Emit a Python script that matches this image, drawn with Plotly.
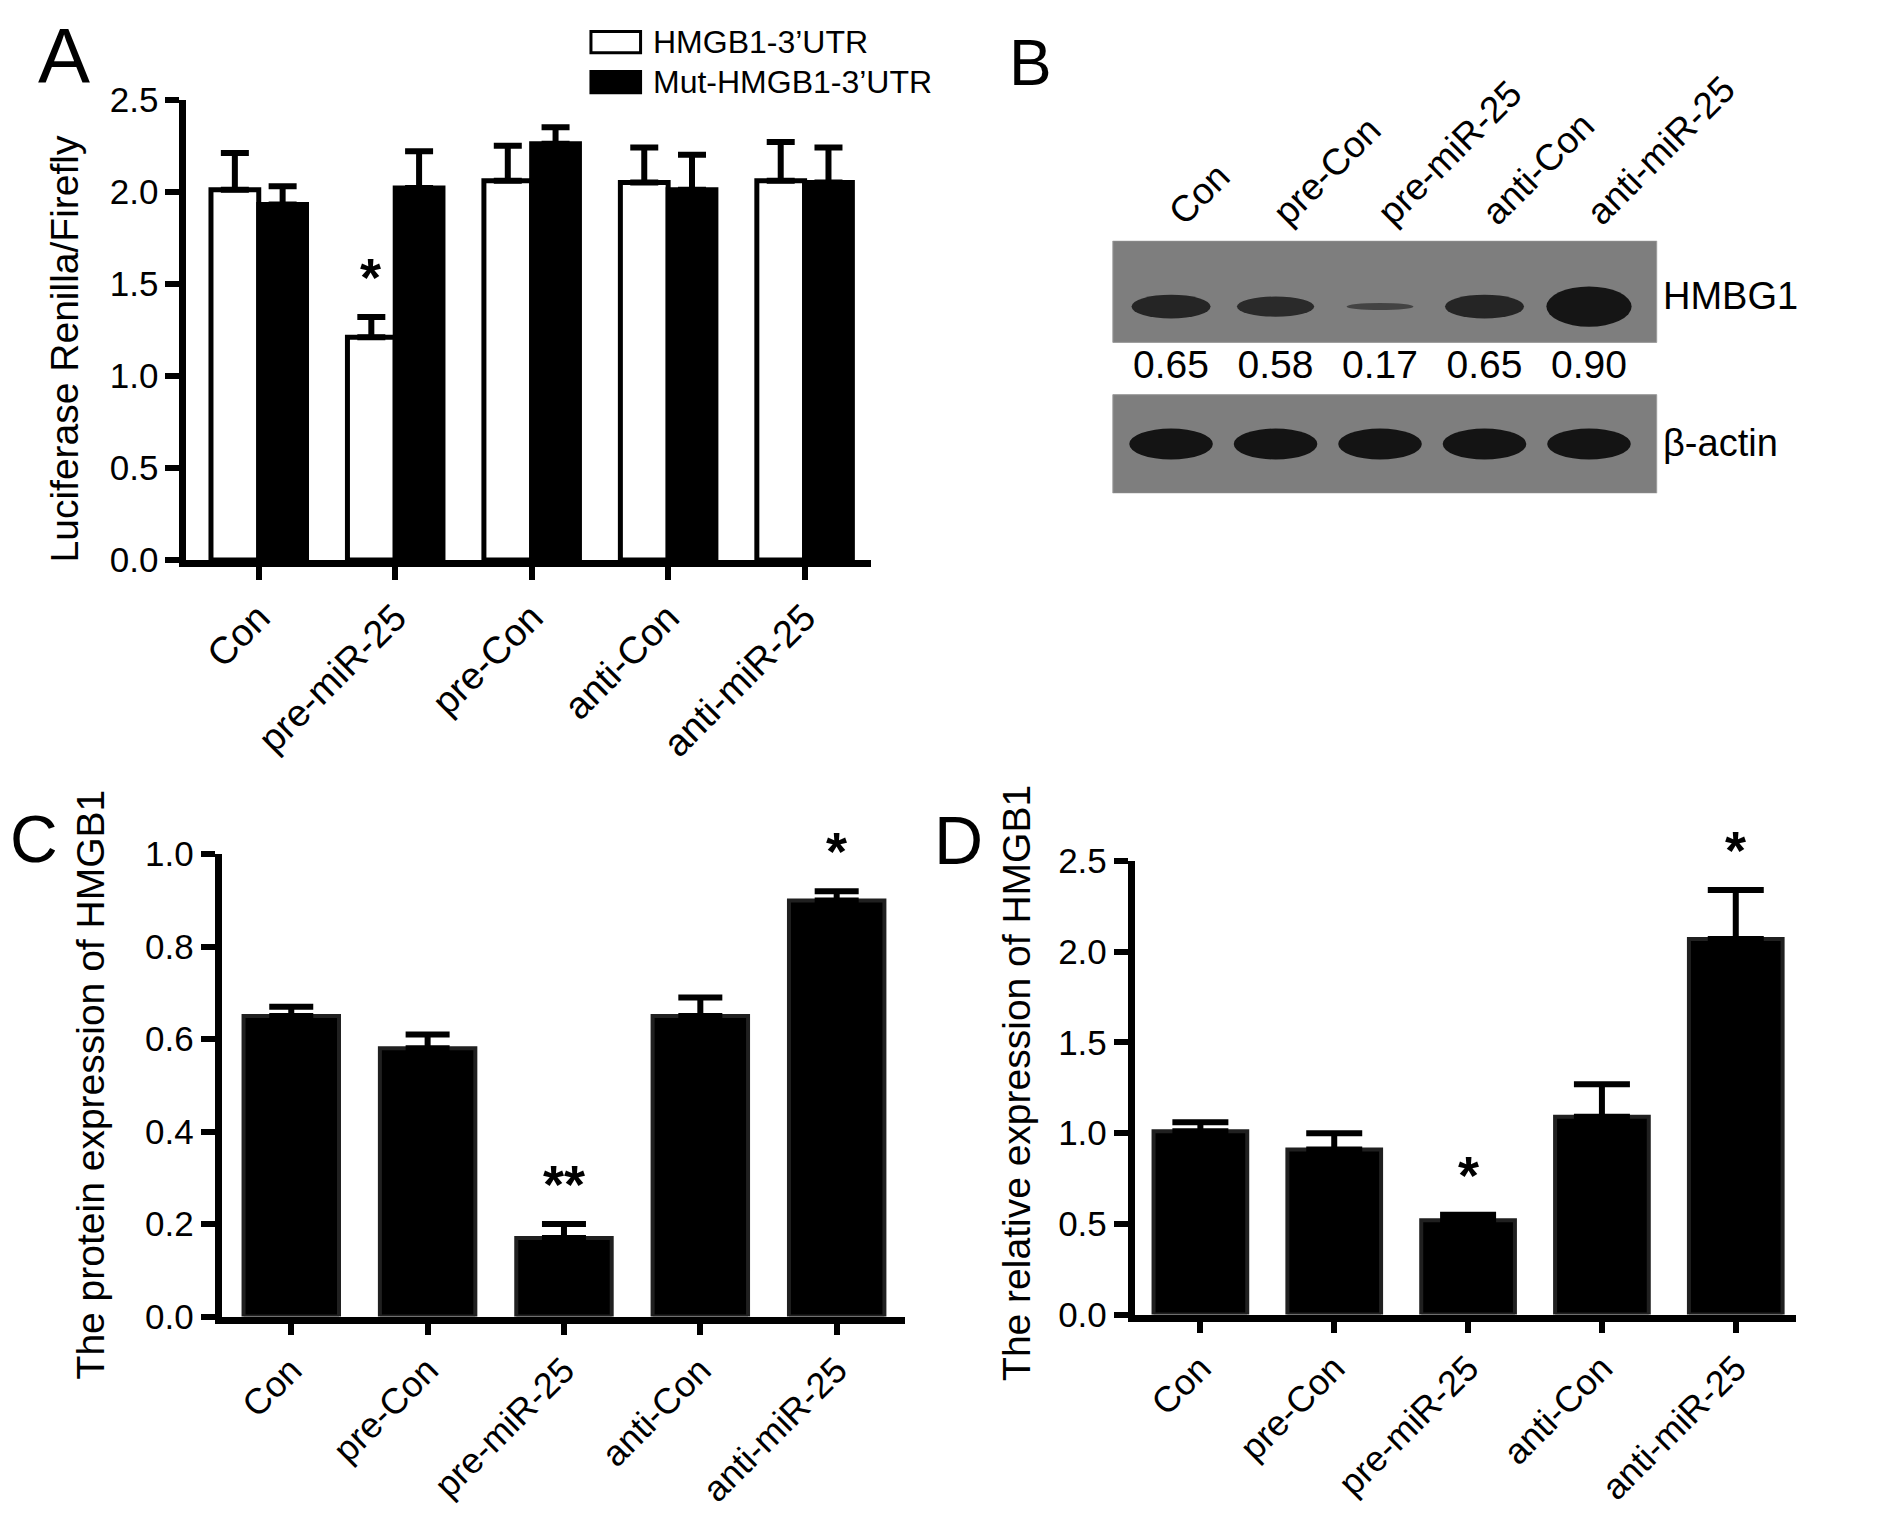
import plotly.graph_objects as go

# Розміри знімка еталону та зсув сторінки (типове поле body = 8 px)
REF_W, REF_H = 1890, 1518
OFF = 8
W, H = REF_W - 2 * OFF, REF_H - 2 * OFF
FONT = "Liberation Sans, Arial, sans-serif"

# --- Панель A: люциферазний тест ---
groups_a = ["Con", "pre-miR-25", "pre-Con", "anti-Con", "anti-miR-25"]
series_names = ["HMGB1-3’UTR", "Mut-HMGB1-3’UTR"]
wt_mean = [2.01, 1.21, 2.06, 2.05, 2.06]
wt_err = [0.20, 0.11, 0.19, 0.19, 0.21]
mut_mean = [1.93, 2.02, 2.26, 2.01, 2.05]
mut_err = [0.10, 0.20, 0.09, 0.19, 0.19]
stars_a = ["", "*", "", "", ""]

# --- Панель B: вестерн-блот ---
lanes_b = ["Con", "pre-Con", "pre-miR-25", "anti-Con", "anti-miR-25"]
blot_hmgb1 = [0.65, 0.58, 0.17, 0.65, 0.90]
blot_labels = ["HMBG1", "β-actin"]

# --- Панель C: білок ---
groups_c = ["Con", "pre-Con", "pre-miR-25", "anti-Con", "anti-miR-25"]
protein_mean = [0.65, 0.58, 0.17, 0.65, 0.90]
protein_err = [0.02, 0.03, 0.03, 0.04, 0.02]
stars_c = ["", "", "**", "", "*"]

# --- Панель D: мРНК ---
groups_d = ["Con", "pre-Con", "pre-miR-25", "anti-Con", "anti-miR-25"]
mrna_mean = [1.01, 0.91, 0.52, 1.09, 2.07]
mrna_err = [0.05, 0.09, 0.03, 0.18, 0.27]
stars_d = ["", "", "*", "", "*"]


# Переведення пікселів еталону в координати paper
def px_x(p):
    return min(1.0, max(0.0, (p - OFF) / W))


def px_y(p):
    return min(1.0, max(0.0, 1 - (p - OFF) / H))


def err(vals, cap):
    return dict(type="data", array=vals, arrayminus=[0] * len(vals), symmetric=False,
                color="black", thickness=6, width=cap)


fig = go.Figure()

# A
fig.add_trace(go.Bar(x=groups_a, y=wt_mean, name=series_names[0], xaxis="x", yaxis="y",
                     marker=dict(color="white", line=dict(color="black", width=5)),
                     error_y=err(wt_err, 14)))
fig.add_trace(go.Bar(x=groups_a, y=mut_mean, name=series_names[1], xaxis="x", yaxis="y",
                     marker=dict(color="black", line=dict(color="black", width=5)),
                     error_y=err(mut_err, 14)))
# C
fig.add_trace(go.Bar(x=groups_c, y=protein_mean, xaxis="x2", yaxis="y2",
                     marker=dict(color="black", line=dict(color="#202020", width=4)),
                     error_y=err(protein_err, 22)))
# D
fig.add_trace(go.Bar(x=groups_d, y=mrna_mean, xaxis="x3", yaxis="y3",
                     marker=dict(color="black", line=dict(color="#202020", width=4)),
                     error_y=err(mrna_err, 28)))
# B: числа під смугою HMGB1
fig.add_trace(go.Scatter(x=lanes_b, y=[129] * len(lanes_b), xaxis="x4", yaxis="y4",
                         mode="text", text=[f"{v:.2f}" for v in blot_hmgb1],
                         textfont=dict(family=FONT, size=39, color="black"),
                         hoverinfo="skip"))


def yaxis_style(domain, rng, dtick, anchor):
    return dict(domain=domain, range=rng, dtick=dtick, tickformat=".1f", anchor=anchor,
                showline=True, linecolor="black", linewidth=7, showgrid=False,
                zeroline=False, ticks="outside", tickcolor="black", tickwidth=6,
                ticklen=14, tickfont=dict(family=FONT, size=35, color="black"))


def xaxis_style(domain, rng, anchor, size, tlen):
    return dict(domain=domain, range=rng, anchor=anchor, tickangle=-45,
                showline=True, linecolor="black", linewidth=7, showgrid=False,
                zeroline=False, ticks="outside", tickcolor="black", tickwidth=6,
                ticklen=tlen, tickfont=dict(family=FONT, size=size, color="black"))


shapes = []
annotations = []

# Сірі фони блоту
for y0, y1 in [(156, 261), (0, 102)]:
    shapes.append(dict(type="rect", xref="x4 domain", yref="y4", x0=0, x1=1, y0=y0, y1=y1,
                       fillcolor="#7e7e7e", line=dict(color="#9c9c9c", width=1), layer="below"))
# Смуги HMGB1 (розмір та інтенсивність за значенням)
for i, v in enumerate(blot_hmgb1):
    hw = 0.30 + 0.12 * v
    hh = 3 + 22 * v * v
    shapes.append(dict(type="circle", xref="x4", yref="y4", x0=i - hw, x1=i + hw,
                       y0=193 - hh, y1=193 + hh, fillcolor="#141414",
                       opacity=min(1.0, 0.45 + 0.6 * v), line=dict(width=0), layer="above"))
# Смуги β-actin
for i in range(len(lanes_b)):
    shapes.append(dict(type="circle", xref="x4", yref="y4", x0=i - 0.40, x1=i + 0.40,
                       y0=51 - 16, y1=51 + 16, fillcolor="#141414",
                       line=dict(width=0), layer="above"))
for lbl, yv in zip(blot_labels, [204, 52]):
    annotations.append(dict(xref="x4 domain", yref="y4", x=1.0, y=yv, text=lbl,
                            showarrow=False, xanchor="left", yanchor="middle", xshift=4,
                            font=dict(family=FONT, size=38, color="black")))

# Легенда панелі A
for k, (fill, yc) in enumerate([("white", 22.5), ("black", 64)]):
    shapes.append(dict(type="rect", xref="paper", yref="paper",
                       x0=px_x(619), x1=px_x(671), y0=px_y(yc + 11), y1=px_y(yc - 11),
                       fillcolor=fill, line=dict(color="black", width=3)))
    annotations.append(dict(xref="paper", yref="paper", x=px_x(682), y=px_y(yc),
                            text=series_names[k], showarrow=False, xanchor="left",
                            yanchor="middle", font=dict(family=FONT, size=32, color="black")))


# Зірочки значущості
def add_stars(stars, cats, means, errs, xref, yref, xshift=0):
    for s, c, m, e in zip(stars, cats, means, errs):
        if s:
            annotations.append(dict(xref=xref, yref=yref, x=c, y=m + e, text=s,
                                    showarrow=False, yanchor="middle", xshift=xshift,
                                    yshift=40,
                                    font=dict(family=FONT, size=54, color="black",
                                              weight="bold")))


add_stars(stars_a, groups_a, wt_mean, wt_err, "x", "y", xshift=-25)
add_stars(stars_c, groups_c, protein_mean, protein_err, "x2", "y2")
add_stars(stars_d, groups_d, mrna_mean, mrna_err, "x3", "y3")

# Підписи осей Y
for text, xc, yc in [("Luciferase Renilla/Firefly", 67, 339),
                     ("The protein expression of HMGB1", 94, 1100),
                     ("The relative expression of HMGB1", 1065, 1098)]:
    annotations.append(dict(xref="paper", yref="paper", x=px_x(xc), y=px_y(yc), text=text,
                            textangle=-90, showarrow=False, xanchor="center", yanchor="middle",
                            font=dict(family=FONT, size=39, color="black")))

# Літери панелей
for letter, xc, yc, size in [("A", 67, 37, 78), ("B", 1080, 44, 64),
                             ("C", 35, 846, 66), ("D", 1004, 847, 68)]:
    annotations.append(dict(xref="paper", yref="paper", x=px_x(xc), y=px_y(yc), text=letter,
                            showarrow=False, xanchor="center", yanchor="middle",
                            font=dict(family=FONT, size=size, color="black")))

fig.update_layout(
    width=W, height=H, autosize=False,
    margin=dict(l=0, r=0, t=0, b=0),
    paper_bgcolor="white", plot_bgcolor="white",
    showlegend=False, barmode="group", bargap=0.3, bargroupgap=0,
    xaxis=xaxis_style([px_x(195), px_x(913)], [-0.53, 4.49], "y", 38, 13),
    yaxis=yaxis_style([px_y(558), px_y(82)], [0, 2.5], 0.5, "x"),
    xaxis2=xaxis_style([px_x(232), px_x(948)], [-0.51, 4.50], "y2", 36, 11),
    yaxis2=yaxis_style([px_y(1340), px_y(862)], [0, 1.0], 0.2, "x2"),
    xaxis3=xaxis_style([px_x(1189), px_x(1890)], [-0.49, 4.45], "y3", 36, 11),
    yaxis3=yaxis_style([px_y(1338), px_y(869)], [0, 2.5], 0.5, "x3"),
    xaxis4=dict(domain=[px_x(1166), px_x(1736)], range=[-0.557, 4.648], anchor="y4",
                side="top", tickangle=-45, showline=False, showgrid=False, zeroline=False,
                ticks="", tickfont=dict(family=FONT, size=37, color="black"),
                categoryorder="array", categoryarray=lanes_b),
    yaxis4=dict(domain=[px_y(489), px_y(228)], range=[0, 261], anchor="x4",
                visible=False),
    shapes=shapes,
    annotations=annotations,
)

fig.write_html("out.html")
